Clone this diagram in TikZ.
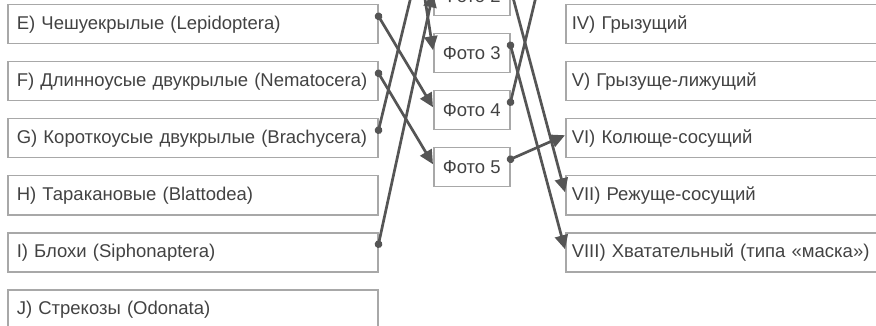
\documentclass[tikz,border=0pt]{standalone}
\usepackage{fontspec}
\setmainfont{Liberation Sans}
\usetikzlibrary{arrows.meta,positioning}
\definecolor{frame}{HTML}{A8A8A8}
\definecolor{wire}{HTML}{555555}
\definecolor{ink}{HTML}{424242}

\begin{document}
\begin{tikzpicture}[x=1pt, y=-1pt, >={Triangle[length=14pt,width=13pt]},
        insect/.style={draw=frame,line width=1.5pt,text=ink,anchor=north west,minimum height=39pt,
          text width=352pt,inner xsep=9pt,align=left,font=\fontsize{18.5}{22}\selectfont},
        mouth/.style={insect,text width=380pt,inner xsep=6pt},
        photo/.style={draw=frame,line width=1.5pt,text=ink,anchor=north west,minimum width=76pt,
          minimum height=39pt,font=\fontsize{18.5}{22}\selectfont},
        link/.style={draw=wire,line width=2.7pt,{Circle[length=7.5pt]}->,shorten <=-3.7pt}]
        \useasboundingbox (0,0) rectangle (876,326);
        \clip (0,0) rectangle (876,326);
        \node[insect] at (7,4) (e) {E) Чешуекрылые (Lepidoptera)};
        \node[insect] at (7,61) (f) {F) Длинноусые двукрылые (Nematocera)};
        \node[insect] at (7,118) (g) {G) Короткоусые двукрылые (Brachycera)};
        \node[insect] at (7,175) (h) {H) Таракановые (Blattodea)};
        \node[insect] at (7,232) (i) {I) Блохи (Siphonaptera)};
        \node[insect] at (7,289) (j) {J) Стрекозы (Odonata)};
        \node[photo] at (433,-24) (p2) {Фото 2};
        \node[photo] at (433,33) (p3) {Фото 3};
        \node[photo] at (433,90) (p4) {Фото 4};
        \node[photo] at (433,147) (p5) {Фото 5};
        \node[mouth] at (565,4) (r4) {IV) Грызущий};
        \node[mouth] at (565,61) (r5) {V) Грызуще-лижущий};
        \node[mouth] at (565,118) (r6) {VI) Колюще-сосущий};
        \node[mouth] at (565,175) (r7) {VII) Режуще-сосущий};
        \node[mouth] at (565,232) (r8) {VIII) Хватательный (типа «маска»)};
        \coordinate (up1) at (415,-20);
        \coordinate (up2) at (422,-20);
        \coordinate (up3) at (540,-20);
        \draw[link] ([yshift=8pt]e.east) to ([yshift=3pt]p4.west);
        \draw[link] ([yshift=8pt]f.east) to ([yshift=3pt]p5.west);
        \draw[link] ([yshift=8pt]g.east) to (up1);
        \draw[link] ([yshift=8pt]i.east) to ([yshift=3pt]p2.west);
        \draw[link] (up2) to ([yshift=3pt]p3.west);
        \draw[link] ([yshift=8pt]p2.east) to ([yshift=3pt]r7.west);
        \draw[link] ([yshift=8pt]p3.east) to ([yshift=3pt]r8.west);
        \draw[link] ([yshift=8pt]p4.east) to (up3);
        \draw[link] ([yshift=8pt]p5.east) to ([yshift=3pt]r6.west);
      \end{tikzpicture}
\end{document}
